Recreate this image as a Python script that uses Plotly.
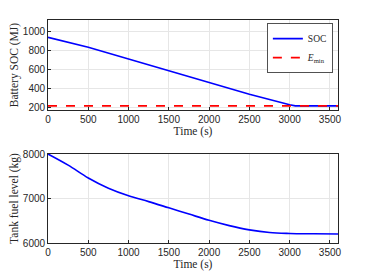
import plotly.graph_objects as go

t_soc = [0, 500, 1000, 1500, 2000, 2500, 3000, 3070, 3600]
soc = [940, 835, 712, 590, 465, 342, 232, 220, 220]
t_emin = [0, 3600]
emin = [220, 220]

t_fuel = [0, 250, 500, 750, 1000, 1250, 1500, 1750, 2000, 2250, 2500, 2750, 3000, 3300, 3600]
fuel = [8000, 7750, 7460, 7230, 7060, 6930, 6790, 6650, 6510, 6390, 6295, 6235, 6215, 6208, 6203]

xticks = [0, 500, 1000, 1500, 2000, 2500, 3000, 3500]

fig = go.Figure()
fig.add_trace(go.Scatter(x=t_soc, y=soc, mode="lines", name="SOC",
                         line=dict(color="#0000ff", width=1.6), xaxis="x", yaxis="y"))
fig.add_trace(go.Scatter(x=t_emin, y=emin, mode="lines", name="<i>E</i><sub>min</sub>",
                         line=dict(color="#ff0000", width=1.6, dash="dash"), xaxis="x", yaxis="y"))
fig.add_trace(go.Scatter(x=t_fuel, y=fuel, mode="lines", showlegend=False,
                         line=dict(color="#0000ff", width=1.6, shape="spline"), xaxis="x2", yaxis="y2"))

serif = "Liberation Serif, DejaVu Serif, serif"
sans = "Liberation Sans, Arial, sans-serif"
axcommon = dict(showline=True, linecolor="#262626", linewidth=0.8, mirror=True,
                ticks="inside", ticklen=3, tickcolor="#262626", automargin=False,
                showgrid=True, gridcolor="#e6e6e6", gridwidth=0.8, zeroline=False,
                tickfont=dict(family=sans, size=10, color="#262626"))
tfont = dict(family=serif, size=11.5, color="#262626")

fig.update_layout(
    width=366, height=272,
    margin=dict(l=40, r=36, t=12, b=37),
    paper_bgcolor="white", plot_bgcolor="white",
    xaxis=dict(domain=[0, 1], anchor="y", range=[0, 3600], tickvals=xticks,
               title=dict(text="Time (s)", font=tfont, standoff=0), **axcommon),
    yaxis=dict(domain=[0.596, 1], anchor="x", range=[176, 1122], tickvals=[200, 400, 600, 800, 1000],
               title=dict(text="Battery SOC (MJ)", font=tfont, standoff=3), **axcommon),
    xaxis2=dict(domain=[0, 1], anchor="y2", range=[0, 3600], tickvals=xticks,
                title=dict(text="Time (s)", font=tfont, standoff=0), **axcommon),
    yaxis2=dict(domain=[0, 0.399], anchor="x2", range=[6000, 8000], tickvals=[6000, 7000, 8000],
                title=dict(text="Tank fuel level (kg)", font=tfont, standoff=3), **axcommon),
    legend=dict(x=0.983, y=0.985, xanchor="right", yanchor="top", bgcolor="white",
                bordercolor="#262626", borderwidth=0.8,
                font=dict(family=serif, size=9.5, color="#262626"),
                tracegroupgap=0, itemwidth=30),
)

fig.write_html("out.html")
